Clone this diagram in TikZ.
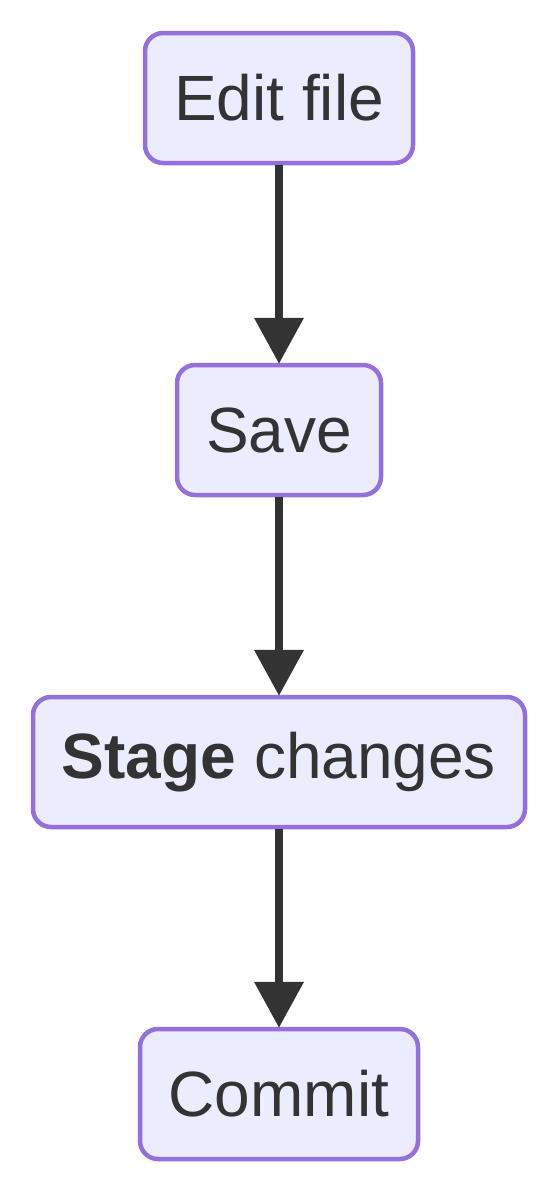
\documentclass[tikz,border=0pt]{standalone}
\usepackage{fontspec}
\setmainfont{Liberation Sans}
\usetikzlibrary{arrows.meta}
\definecolor{nodefill}{HTML}{ECECFF}
\definecolor{nodeborder}{HTML}{9370DB}
\definecolor{ink}{HTML}{333333}
\tikzset{
  flowbox/.style={draw=nodeborder, fill=nodefill, line width=4.5pt, rounded corners=18pt,
    minimum height=130pt, inner sep=0pt, text=ink, font=\fontsize{64}{77}\selectfont},
  flowarrow/.style={draw=ink, line width=7.5pt, -{Triangle[length=46pt,width=48pt]}, shorten >=-1pt}
}
\begin{document}
\begin{tikzpicture}[x=1pt,y=-1pt]
\useasboundingbox (0,0) rectangle (556,1192);
\node[flowbox, minimum width=268pt] (edit) at (279,98) {Edit file};
\node[flowbox, minimum width=204pt] (save) at (279,430) {Save};
\node[flowbox, minimum width=492pt] (stage) at (279,762) {\textbf{Stage} changes};
\node[flowbox, minimum width=278pt] (commit) at (279,1094) {Commit};
\draw[flowarrow] (edit.south) -- (save.north);
\draw[flowarrow] (save.south) -- (stage.north);
\draw[flowarrow] (stage.south) -- (commit.north);
\end{tikzpicture}
\end{document}
